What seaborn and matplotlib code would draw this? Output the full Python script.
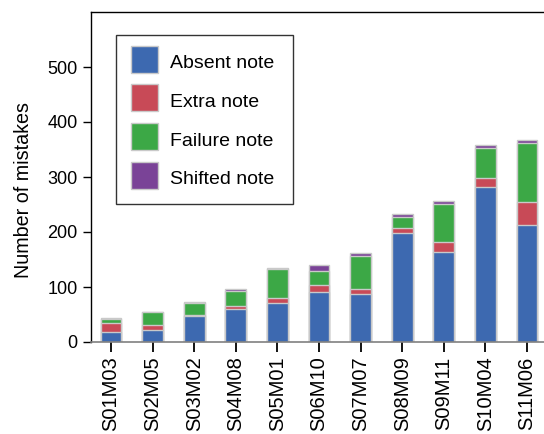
import matplotlib
matplotlib.use("Agg")
import matplotlib.pyplot as plt
import numpy as np
import pandas as pd
import seaborn as sns
from matplotlib.patches import Patch, Rectangle
from matplotlib.legend_handler import HandlerPatch

sessions = ["S01M03", "S02M05", "S03M02", "S04M08", "S05M01", "S06M10",
            "S07M07", "S08M09", "S09M11", "S10M04", "S11M06"]
absent = [19, 22, 48, 60, 71, 91, 87, 198, 164, 282, 213]
extra = [15, 9, 2, 6, 9, 12, 9, 10, 17, 17, 41]
failure = [7, 23, 21, 26, 53, 27, 61, 20, 70, 54, 107]
shifted = [3, 1, 2, 4, 1, 10, 4, 4, 5, 5, 6]

labels = ["Absent note", "Extra note", "Failure note", "Shifted note"]
colors = ["#3d69b0", "#c84a57", "#3ca846", "#7a4397"]

df = pd.DataFrame({"session": sessions, "absent": absent, "extra": extra,
                   "failure": failure, "shifted": shifted})
# cumulative heights, drawn from the top layer down
df["c1"] = df["absent"]
df["c2"] = df["c1"] + df["extra"]
df["c3"] = df["c2"] + df["failure"]
df["c4"] = df["c3"] + df["shifted"]

sns.set_style("ticks", rc={"text.color": "black", "axes.labelcolor": "black",
                           "xtick.color": "black", "ytick.color": "black",
                           "axes.edgecolor": "black"})
plt.rcParams["font.family"] = ["Liberation Sans", "DejaVu Sans"]

fig = plt.figure(figsize=(5.44, 4.34), dpi=100)
ax = fig.add_axes([91 / 544, 92 / 434, (544 - 91) / 544, 330 / 434])

for col, color in zip(["c4", "c3", "c2", "c1"], colors[::-1]):
    sns.barplot(data=df, x="session", y=col, color=color, width=0.5,
                edgecolor="#c9c9c9", linewidth=1, saturation=1, ax=ax)

ax.set_xlim(-0.48, 10.41)
ax.set_ylim(0, 600)
ax.set_yticks([0, 100, 200, 300, 400, 500])
ax.set_xlabel("")
ax.set_ylabel("Number of mistakes", fontsize=14.2)
ax.yaxis.set_label_coords(-0.128, 0.46)
ax.tick_params(axis="y", labelsize=13, length=6, width=1, direction="out")
ax.tick_params(axis="x", labelsize=14.5, length=7, width=1.3, direction="out",
               rotation=90)
for s in ["left", "top"]:
    ax.spines[s].set_color("black")
    ax.spines[s].set_linewidth(1)
ax.spines["bottom"].set_color("#808080")
ax.spines["bottom"].set_linewidth(1.2)
ax.spines["right"].set_visible(False)


def square(legend, orig_handle, xdescent, ydescent, width, height, fontsize):
    # fill the whole handle box so the swatches are square
    return Rectangle((-xdescent, -ydescent), width, height + ydescent)


handles = [Patch(facecolor=c, edgecolor="#c9c9c9", label=l)
           for c, l in zip(colors, labels)]
leg = ax.legend(handles=handles, loc="upper left",
                bbox_to_anchor=(0.055, 0.0, 0.391, 0.93), mode="expand",
                borderaxespad=0, fontsize=14, frameon=True, fancybox=False,
                handlelength=1.39, handleheight=1.39, labelspacing=0.85,
                borderpad=0.78, handletextpad=0.62,
                handler_map={Patch: HandlerPatch(patch_func=square)})
leg.get_frame().set_edgecolor("black")
leg.get_frame().set_linewidth(1)

fig.savefig("out.png", dpi=100)
